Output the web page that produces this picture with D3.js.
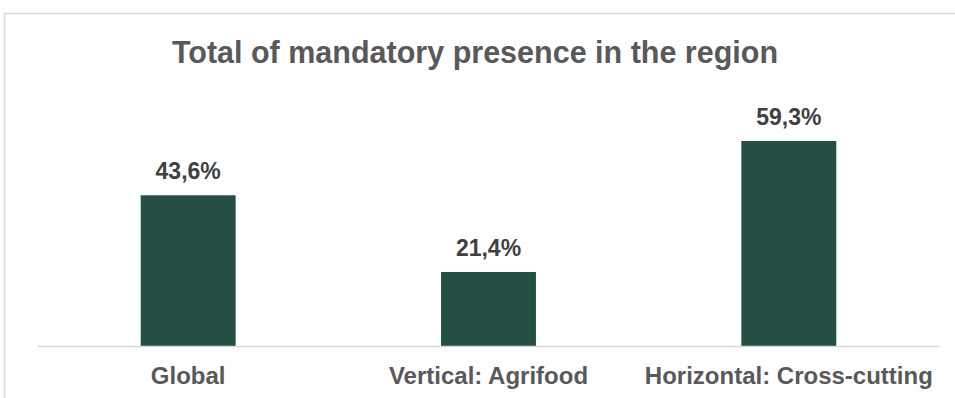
<!DOCTYPE html>
<html>
<head>
<meta charset="utf-8">
<script src="https://cdn.jsdelivr.net/npm/d3@7"></script>
<style>
  html, body { margin: 0; padding: 0; background: #fff; }
  svg { display: block; font-family: Arial, "Liberation Sans", sans-serif; }
</style>
</head>
<body>
<svg id="chart" width="955" height="398"></svg>
<script>
// data
var categories = ['Global', 'Vertical: Agrifood', 'Horizontal: Cross-cutting'];
var values = [43.6, 21.4, 59.3];
var valueLabels = ['43,6%', '21,4%', '59,3%'];

var svg = d3.select('#chart');
var W = 955, H = 398;

// chart area frame (only top and left edges visible)
svg.append('path')
  .attr('d', 'M4.5,' + H + 'V13.5H' + W)
  .attr('fill', 'none')
  .attr('stroke', '#d9d9d9')
  .attr('stroke-width', 1.5);

svg.append('text')
  .attr('x', 475)
  .attr('y', 63)
  .attr('text-anchor', 'middle')
  .attr('font-size', 30.5)
  .attr('font-weight', 'bold')
  .attr('fill', '#595959')
  .text('Total of mandatory presence in the region');

var x = d3.scaleBand()
  .domain(categories)
  .range([38, 939])
  .paddingInner(0.684)
  .paddingOuter(0.342);

var y = d3.scaleLinear()
  .domain([0, 70])
  .range([346, 104]);

var rows = categories.map(function(c, i) {
  return {name: c, value: values[i], label: valueLabels[i]};
});

svg.selectAll('rect.bar')
  .data(rows)
  .enter()
  .append('rect')
  .attr('class', 'bar')
  .attr('x', function(d) { return x(d.name); })
  .attr('y', function(d) { return y(d.value); })
  .attr('width', x.bandwidth())
  .attr('height', function(d) { return y(0) - y(d.value); })
  .attr('fill', '#244f45');

svg.selectAll('text.val')
  .data(rows)
  .enter()
  .append('text')
  .attr('class', 'val')
  .attr('x', function(d) { return x(d.name) + x.bandwidth() / 2; })
  .attr('y', function(d) { return y(d.value) - 16; })
  .attr('text-anchor', 'middle')
  .attr('font-size', 23)
  .attr('font-weight', 'bold')
  .attr('fill', '#404040')
  .text(function(d) { return d.label; });

// category axis
var axis = svg.append('g')
  .attr('transform', 'translate(0,346)')
  .call(d3.axisBottom(x).tickSize(0).tickPadding(0));
axis.select('.domain')
  .attr('d', 'M38,0.5H939')
  .attr('stroke', '#d9d9d9')
  .attr('stroke-width', 1.5);
axis.selectAll('text')
  .attr('y', 38)
  .attr('dy', null)
  .attr('font-family', 'Arial, "Liberation Sans", sans-serif')
  .attr('font-size', 24)
  .attr('font-weight', 'bold')
  .attr('fill', '#595959');
</script>
</body>
</html>
